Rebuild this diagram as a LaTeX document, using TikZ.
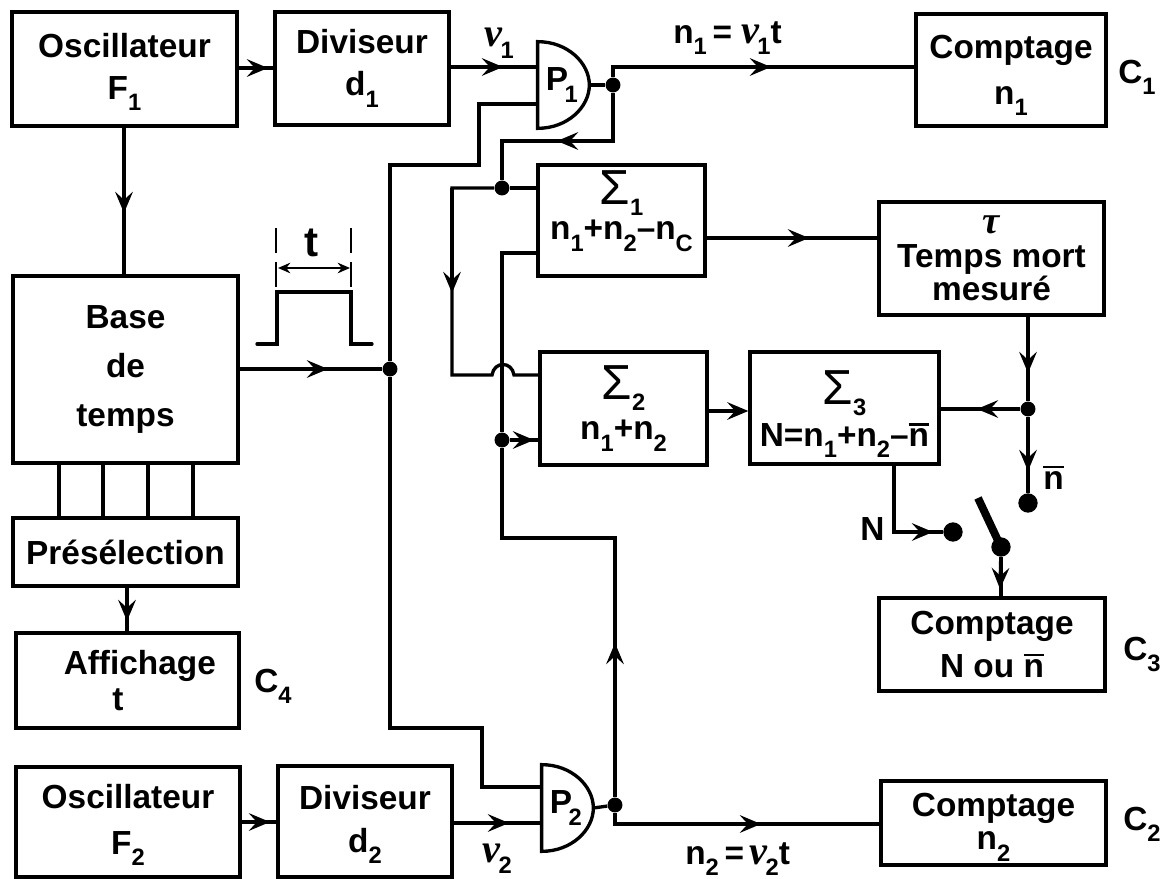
\documentclass[tikz,border=0pt]{standalone}
\usepackage{fontspec}
\setmainfont{Liberation Sans}
\newfontfamily\greekfont{Liberation Serif}
\usetikzlibrary{arrows.meta,positioning,calc}
\newcommand{\low}[1]{\raisebox{-6.5pt}{\fontsize{13.5}{13.5}\selectfont #1}}
\newcommand{\nbar}{\vbox{\hrule height 1.5pt\kern 1.5pt\hbox{n}}}
\newcommand{\nulow}[1]{{\greekfont\itshape\fontsize{23}{23}\selectfont ν}\kern-1pt\low{#1}}
\newcommand{\bigsum}[1]{{\fontseries{m}\selectfont\fontsize{28}{28}\selectfont Σ}\low{#1}}

\begin{document}
\begin{tikzpicture}[
    x=0.02cm, y=-0.02cm,
    block/.style 2 args={rectangle, draw, line width=1.9pt, inner sep=0pt, align=center,
                  minimum width=#1*0.02cm, minimum height=#2*0.02cm,
                  font=\fontsize{19}{24}\selectfont\bfseries},
    wire/.style={line width=1.9pt, line join=miter},
    arrow/.style={wire, -{Stealth[length=12pt,width=10pt,inset=4.5pt]}},
    lbl/.style={font=\fontsize{19}{22}\selectfont\bfseries, inner sep=0pt, anchor=base west},
    junction/.style={circle, fill, inner sep=0pt, minimum size=8.5pt},
    contact/.style={circle, fill, inner sep=0pt, minimum size=11pt},
    gatebox/.style={inner sep=0pt, minimum width=51*0.02cm, minimum height=86*0.02cm,
                  text width=51*0.02cm, align=left,
                  font=\fontsize{19}{22}\selectfont\bfseries},
    sumfont/.style={font=\fontsize{19}{20}\selectfont\bfseries}
]
\useasboundingbox (0,0) rectangle (1171,879);

%% ── Top row ──────────────────────────────────────────────────────
\node[block={225}{114}, text depth=3pt] (oscone) at (124.5,69) {Oscillateur\\F\low{1}};
\node[block={174}{113}] (divone) at (362,68.5) {Diviseur\\d\low{1}};
\node[gatebox] (gateone) at (563.5,85) {\hspace*{4.5pt}\raisebox{-3pt}{P\kern-2pt\low{1}}};
\node[block={190}{112}, text depth=0pt, font=\fontsize{19}{26}\selectfont\bfseries] (cntone) at (1011,70) {Comptage\\n\low{1}};
\node[lbl] (cone) at (1118,83) {C\low{1}};

%% ── Left column ──────────────────────────────────────────────────
\node[block={225}{187},font=\fontsize{19}{28}\selectfont\bfseries] (base) at (125.5,369.5) {Base\\de\\temps};
\node[block={225}{68}] (presel) at (125.5,552) {Présélection};
\node[block={223}{95},font=\fontsize{19}{20}\selectfont\bfseries] (affich) at (127.5,680.5) {\hspace*{14pt}Affichage\\t\hspace*{11pt}};
\node[lbl] (cfour) at (254,692) {C\low{4}};

%% ── Sums ─────────────────────────────────────────────────────────
\node[block={167}{111},sumfont,text depth=17.5pt] (sumone) at (621.5,220.5) {\bigsum{1}\\n\low{1}+n\low{2}–n\low{C}};
\node[block={167}{113},sumfont] (sumtwo) at (623.5,408.5) {\bigsum{2}\\[3pt]n\low{1}+n\low{2}};
\node[block={189}{112},sumfont] (sumthree) at (844.5,408) {\rule{0pt}{26pt}\bigsum{3}\\[4pt]N=n\low{1}+n\low{2}–\nbar};
\node[block={225}{113},font=\fontsize{19}{19}\selectfont\bfseries] (tempsmort) at (991.5,258.5) {{\greekfont\itshape\fontsize{22}{22}\selectfont τ}\\Temps mort\\mesuré};
\node[block={226}{93}] (cntthree) at (992,644.5) {Comptage\\N ou \nbar};
\node[lbl] (cthree) at (1123,660) {C\low{3}};

%% ── Bottom row ───────────────────────────────────────────────────
\node[block={224}{110}, text depth=3pt, font=\fontsize{19}{26}\selectfont\bfseries] (osctwo) at (128,822) {Oscillateur\\F\low{2}};
\node[block={174}{111}, text depth=3pt] (divtwo) at (365,821.5) {Diviseur\\d\low{2}};
\node[gatebox] (gatetwo) at (567.5,808) {\hspace*{4.5pt}\raisebox{-3pt}{P\kern-2pt\low{2}}};
\node[block={225}{84}, text depth=2pt, font=\fontsize{19}{19}\selectfont\bfseries] (cnttwo) at (993.5,823) {Comptage\\n\low{2}};
\node[lbl] (ctwo) at (1123,830) {C\low{2}};

%% ── Gates ────────────────────────────────────────────────────────
\draw[wire] (gateone.north west) .. controls +(30,0) and +(0,-22) .. (gateone.east)
    .. controls +(0,22) and +(30,0) .. (gateone.south west) -- cycle;
\draw[wire] (gatetwo.north west) .. controls +(30,0) and +(0,-22) .. (gatetwo.east)
    .. controls +(0,22) and +(30,0) .. (gatetwo.south west) -- cycle;

%% ── Junctions ────────────────────────────────────────────────────
\node[junction] (jout) at (613,85) {};
\node[junction] (jsum) at (502,188) {};
\node[junction] (jbase) at (390,369) {};
\node[junction] (jin) at (502,440) {};
\node[junction] (jback) at (1028,409) {};
\node[junction] (jgate) at (615,805) {};
\node[contact] (cbar) at (1028,503) {};
\node[contact] (cn) at (953,532) {};
\node[contact] (cpivot) at (1001,547) {};
\coordinate (leverend) at (978,498);

%% ── Top connectors ───────────────────────────────────────────────
\draw[wire] (oscone.east |- 0,68) -- (divone.west |- 0,68);
\draw[arrow] (oscone.east |- 0,68) -- (268,68);
\draw[wire] (divone.east |- 0,67) -- (gateone.west |- 0,67);
\draw[arrow] (divone.east |- 0,67) -- (503,67);
\draw[wire] (gateone.east) -- (jout);
\draw[wire] (jout) -- (613,67) -- (cntone.west |- 0,67);
\draw[arrow] (613,67) -- (771,67);
\draw[wire] (jout) -- (613,141) -- (502,141) -- (jsum);
\draw[arrow] (613,141) -- (557,141);
\draw[wire] (jsum) -- (sumone.west |- jsum);
\draw[wire] (oscone.south -| 124,0) -- (base.north -| 124,0);
\draw[arrow] (oscone.south -| 124,0) -- (124,213);

%% ── Time base and gate lines ─────────────────────────────────────
\draw[wire] (base.east |- jbase) -- (jbase);
\draw[arrow] (base.east |- jbase) -- (328,369);
\draw[wire] (gateone.west |- 0,104) -- (479,104) -- (479,165) -- (390,165) -- (jbase);
\draw[wire] (jbase) -- (390,728) -- (482,728) -- (482,787) -- (gatetwo.west |- 0,787);

%% ── Pulse ────────────────────────────────────────────────────────
\draw[wire, line cap=round] (257,344) -- (277,344) -- (277,292) -- (351,292) -- (351,344) -- (372,344);
\foreach \xpos in {276,351} {
    \draw[line width=1pt] (\xpos,228) -- (\xpos,253);
    \draw[line width=1pt] (\xpos,262) -- (\xpos,287);
}
\draw[line width=1.1pt, {Stealth[length=7pt,width=6pt]}-{Stealth[length=7pt,width=6pt]}] (278,268) -- (350,268);
\node[lbl, font=\fontsize{24}{24}\selectfont\bfseries] (tlabel) at (304,256) {t};

%% ── Base to preset ───────────────────────────────────────────────
\foreach \xpos in {59,103,148,193} {
    \draw[wire] (\xpos,463) -- (\xpos,518);
}
\draw[wire] (presel.south -| 127,0) -- (affich.north -| 127,0);
\draw[arrow] (presel.south -| 127,0) -- (127,621);

%% ── Sum connectors ───────────────────────────────────────────────
\draw[wire] (jsum) -- (452,188) -- (452,375) -- (492,375)
    .. controls (494,361) and (512,361) .. (514,375) -- (sumtwo.west |- 0,375);
\draw[arrow] (452,188) -- (452,293);
\draw[wire] (sumone.west |- 0,253) -- (502,253) -- (jin);
\draw[wire] (jin) -- (sumtwo.west |- jin);
\draw[arrow] (jin) -- (534,440);
\draw[wire] (jin) -- (502,538) -- (615,538) -- (jgate);
\draw[arrow] (jgate) -- (615,643);
\draw[wire] (gatetwo.east) -- (jgate);
\draw[wire] (jgate) -- (615,824) -- (cnttwo.west |- 0,824);
\draw[arrow] (615,824) -- (761,824);
\draw[wire] (divtwo.east |- 0,823) -- (gatetwo.west |- 0,823);
\draw[arrow] (divtwo.east |- 0,823) -- (509,823);
\draw[wire] (osctwo.east |- 0,822) -- (divtwo.west |- 0,822);
\draw[arrow] (osctwo.east |- 0,822) -- (270,822);

%% ── Right side ───────────────────────────────────────────────────
\draw[wire] (sumone.east |- 0,238) -- (tempsmort.west |- 0,238);
\draw[arrow] (sumone.east |- 0,238) -- (809,238);
\draw[arrow] (sumtwo.east |- 0,411) -- (sumthree.west |- 0,411);
\draw[wire] (tempsmort.south -| jback) -- (jback);
\draw[arrow] (tempsmort.south -| jback) -- (1028,373);
\draw[wire] (jback) -- (sumthree.east |- jback);
\draw[arrow] (jback) -- (977,409);
\draw[wire] (jback) -- (cbar);
\draw[arrow] (jback) -- (1028,471);
\draw[wire] (sumthree.south -| 894,0) -- (894,532) -- (cn);
\draw[arrow] (894,532) -- (933,532);
\draw[line width=4.5pt] (cpivot.center) -- (leverend);
\draw[wire] (cpivot) -- (cntthree.north -| cpivot);
\draw[arrow] (cpivot) -- (1000,589);

%% ── Labels ───────────────────────────────────────────────────────
\node[lbl] (nuone) at (484,47) {\nulow{1}};
\node[lbl] (nutwo) at (482,862) {\nulow{2}};
\node[lbl] (eqone) at (673,43) {n\low{1}\,= \nulow{1}t};
\node[lbl] (eqtwo) at (685,864) {n\low{2}\,=\,\nulow{2}t};
\node[lbl] (nbarl) at (1043,489) {\nbar};
\node[lbl] (nlbl) at (860,540) {N};

\end{tikzpicture}
\end{document}
